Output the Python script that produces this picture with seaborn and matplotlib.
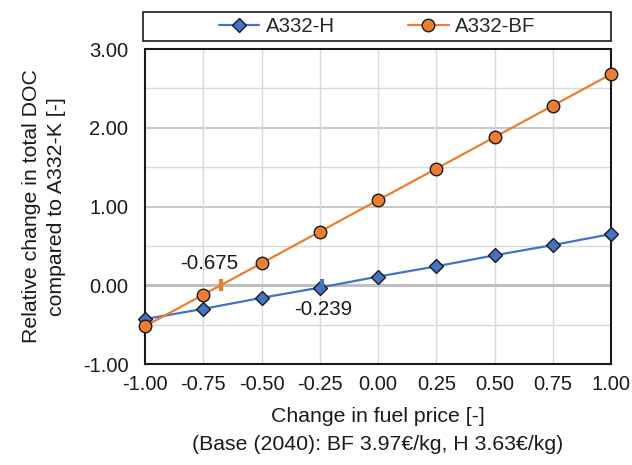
import matplotlib
matplotlib.use("Agg")
import matplotlib.pyplot as plt
import seaborn as sns
import pandas as pd
from matplotlib.patches import Rectangle
from matplotlib.ticker import MultipleLocator, FormatStrFormatter

# Fuel price sensitivity data
fuel_change = [-1.00, -0.75, -0.50, -0.25, 0.00, 0.25, 0.50, 0.75, 1.00]
doc_h = [-0.43, -0.30, -0.16, -0.03, 0.11, 0.24, 0.38, 0.51, 0.65]
doc_bf = [-0.52, -0.12, 0.28, 0.68, 1.08, 1.48, 1.88, 2.28, 2.68]
series_names = ["A332-H", "A332-BF"]
breakeven = {"A332-H": -0.239, "A332-BF": -0.675}

blue = "#4472C4"
orange = "#ED7D31"
ink = "#1a1a1a"

sns.set_theme(style="white")
plt.rcParams["font.family"] = ["Liberation Sans", "DejaVu Sans"]

df = pd.DataFrame({
    "x": fuel_change * 2,
    "y": doc_h + doc_bf,
    "series": [series_names[0]] * len(fuel_change) + [series_names[1]] * len(fuel_change),
})

fig = plt.figure(figsize=(6.32, 4.65), dpi=100)
ax = fig.add_axes([145 / 632, 1 - 364 / 465, 466 / 632, 315 / 465])

# gridlines
for v in [-0.5, 0.5, 1.5, 2.5]:
    ax.axhline(v, color="#d9d9d9", lw=1.0, zorder=0)
for v in [1.0, 2.0]:
    ax.axhline(v, color="#bfbfbf", lw=1.2, zorder=0)
for v in [-0.75, -0.5, -0.25, 0.0, 0.25, 0.5, 0.75]:
    ax.axvline(v, color="#d9d9d9", lw=1.0, zorder=0)
ax.axhline(0, color="#bfbfbf", lw=2.2, zorder=1)

sub_h = df[df["series"] == "A332-H"]
sub_bf = df[df["series"] == "A332-BF"]
sns.lineplot(data=sub_h, x="x", y="y", color=blue, lw=1.6, marker="D",
             markersize=7, markeredgecolor=ink, markeredgewidth=1.0,
             markerfacecolor=blue, ax=ax, label="A332-H", zorder=3, clip_on=False)
sns.lineplot(data=sub_bf, x="x", y="y", color=orange, lw=1.6, marker="o",
             markersize=9, markeredgecolor=ink, markeredgewidth=1.0,
             markerfacecolor=orange, ax=ax, label="A332-BF", zorder=3, clip_on=False)

# break-even markers
ax.plot([breakeven["A332-BF"]], [0], marker="|", color=orange, markersize=9,
        markeredgewidth=3, zorder=4)
ax.plot([breakeven["A332-H"]], [0], marker="|", color=blue, markersize=9,
        markeredgewidth=3, zorder=4)
ax.text(-0.725, 0.27, f"{breakeven['A332-BF']:.3f}", ha="center", va="center",
        fontsize=14.8, color=ink)
ax.text(-0.236, -0.31, f"{breakeven['A332-H']:.3f}", ha="center", va="center",
        fontsize=14.8, color=ink)

ax.set_xlim(-1, 1)
ax.set_ylim(-1, 3)
ax.xaxis.set_major_locator(MultipleLocator(0.25))
ax.yaxis.set_major_locator(MultipleLocator(1.0))
ax.xaxis.set_major_formatter(FormatStrFormatter("%.2f"))
ax.yaxis.set_major_formatter(FormatStrFormatter("%.2f"))
ax.tick_params(axis="x", length=0, labelsize=14.5, colors=ink, pad=8)
ax.tick_params(axis="y", length=0, labelsize=14.5, colors=ink, pad=12)
ax.grid(False)
for s in ax.spines.values():
    s.set_visible(True)
    s.set_color(ink)
    s.set_linewidth(1.5)

ax.set_xlabel("Change in fuel price [-]\n(Base (2040): BF 3.97€/kg, H 3.63€/kg)",
              fontsize=15.3, color=ink, labelpad=9, linespacing=1.6)
ax.set_ylabel("Relative change in total DOC\ncompared to A332-K [-]",
              fontsize=15.3, color=ink, labelpad=12, linespacing=1.4)

# legend box above the plot area
fig.patches.append(Rectangle((143 / 632, 1 - 41 / 465), 468 / 632, 29 / 465,
                             transform=fig.transFigure, fill=False,
                             edgecolor=ink, lw=1.2))
ax.legend(loc="center", bbox_to_anchor=(377 / 632, 1 - 26.5 / 465),
          bbox_transform=fig.transFigure, ncol=2, frameon=False,
          fontsize=14.7, handlelength=2.0, columnspacing=3.6,
          handletextpad=0.3, borderaxespad=0, borderpad=0)

fig.savefig("out.png", dpi=100)
